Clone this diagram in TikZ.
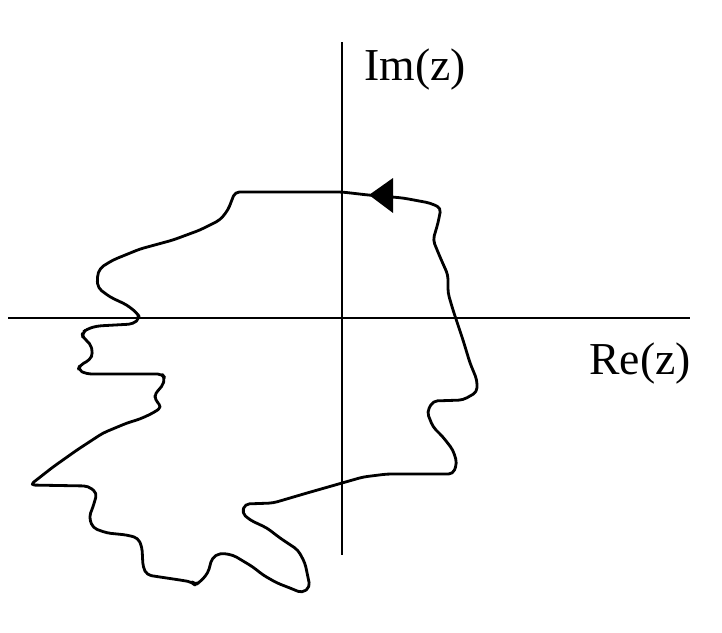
\documentclass[tikz,border=0pt]{standalone}
\usepackage{fontspec}
\setmainfont{Liberation Serif}
\usetikzlibrary{arrows}

\begin{document}
\begin{tikzpicture}[x=0.02cm, y=-0.02cm,
		axis/.style={line width=1.3pt},
		contour/.style={line width=1.6pt, rounded corners=2.5pt, line join=round},
		axlabel/.style={anchor=base west, inner sep=0pt, font=\fontsize{26}{30}\selectfont}]
		\useasboundingbox (0,0) rectangle (722,632);
		% axes
		\draw[axis] (8,318) -- (690,318);
		\draw[axis] (342,42) -- (342,555);
		\node[axlabel] (imz) at (364,80) {Im(z)};
		\node[axlabel] (rez) at (589,374) {Re(z)};
		% the contour
		\draw[contour] (235,192) -- (342,192) -- (368,195) -- (392,197) -- (403,198) -- (430,203) -- (441,208)
			-- (438,223) -- (433,240) -- (440,257) -- (448,275) -- (448,293) -- (453,310) -- (463,340)
			-- (470,363) -- (477,380) -- (477,392) -- (463,400) -- (433,401) -- (427,412) -- (433,427)
			-- (443,437) -- (453,450) -- (457,463) -- (453,474) -- (387,474) -- (363,477) -- (342,483)
			-- (307,493) -- (273,503) -- (245,504) -- (242,513) -- (250,520) -- (267,528) -- (280,538)
			-- (298,550) -- (305,563) -- (310,587) -- (302,593) -- (290,588) -- (277,583) -- (263,575)
			-- (253,567) -- (233,555) -- (220,553) -- (212,558) -- (208,573) -- (200,582) -- (195,585)
			-- (192,582) -- (180,580) -- (160,577) -- (147,575) -- (143,567) -- (142,547) -- (138,538)
			-- (127,535) -- (107,533) -- (93,528) -- (89,517) -- (93,507) -- (97,493) -- (88,486)
			-- (30,485) -- (53,467) -- (77,450) -- (103,433) -- (127,423) -- (140,419) -- (153,413)
			-- (162,407) -- (155,400) -- (155,393) -- (162,387) -- (165,378) -- (162,374) -- (87,374)
			-- (78,370) -- (80,365) -- (90,360) -- (93,353) -- (90,343) -- (83,338) -- (82,333)
			-- (87,329) -- (97,326) -- (133,324) -- (140,318) -- (137,313) -- (127,305) -- (110,297)
			-- (98,288) -- (97,277) -- (100,268) -- (113,260) -- (140,249) -- (173,240) -- (200,230)
			-- (220,220) -- (228,210) -- cycle;
		% direction of travel
		\fill (369,195) -- (393,178) -- (393,213) -- cycle;
	\end{tikzpicture}
\end{document}
